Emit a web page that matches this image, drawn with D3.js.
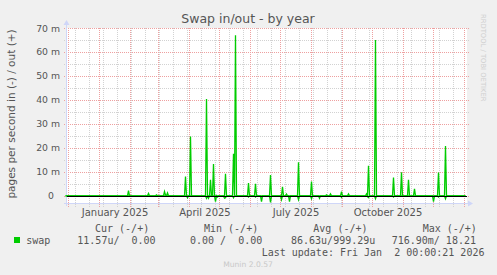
<!DOCTYPE html>
<html><head><meta charset="utf-8">
<script src="https://cdn.jsdelivr.net/npm/d3@7"></script>
<style>html,body{margin:0;padding:0;background:#f0f0f0;} svg{display:block;}</style>
</head><body><svg id="c" width="497" height="275"></svg>
<script>
// ---- data (values in milli pages/second) ----
const yTickValues = [0, 10, 20, 30, 40, 50, 60, 70];
const yTickLabels = ["0", "10 m", "20 m", "30 m", "40 m", "50 m", "60 m", "70 m"];
const monthLabels = ["January 2025", "April 2025", "July 2025", "October 2025"];
const monthLabelDates = ["2025-01-16T12:00", "2025-04-16T12:00", "2025-07-16T12:00", "2025-10-16T12:00"];

// swap out (+)
const outDates = ["2025-01-30","2025-02-19","2025-02-27","2025-03-07","2025-03-08","2025-03-10","2025-03-28","2025-04-02",
  "2025-04-18","2025-04-22","2025-04-25","2025-05-07","2025-05-15","2025-05-17","2025-05-30","2025-06-06","2025-06-21",
  "2025-07-03","2025-07-07","2025-07-19","2025-08-01","2025-08-16","2025-08-20","2025-08-31","2025-09-07","2025-09-25",
  "2025-09-27","2025-10-04","2025-10-22","2025-10-30","2025-11-06","2025-11-12","2025-12-06","2025-12-13"];
const outValues = [2.2, 1.0, 0.4, 1.8, 0.4, 1.2, 8.0, 24.7,
  40.4, 6.7, 13.3, 9.2, 17.5, 67.0, 5.3, 5.0, 8.7,
  3.8, 0.7, 14.0, 6.0, 0.4, 0.8, 1.7, 0.8, 0.8,
  12.5, 65.0, 7.6, 9.8, 6.7, 2.9, 9.7, 20.8];

// swap in (-)
const inDates = ["2025-03-30","2025-04-18","2025-04-20","2025-04-27","2025-04-29","2025-05-06","2025-05-07","2025-05-15",
  "2025-05-30","2025-06-06","2025-06-12","2025-06-21","2025-07-02","2025-07-10","2025-07-19","2025-08-01","2025-08-09",
  "2025-08-31","2025-09-27","2025-10-04","2025-10-22","2025-12-01","2025-12-06","2025-12-13"];
const inValues = [0.8, 1.0, 1.0, 2.4, 0.5, 1.0, 0.8, 0.8,
  0.5, 0.5, 2.4, 2.8, 1.6, 2.4, 1.6, 1.2, 1.0,
  0.6, 0.7, 1.2, 0.5, 2.4, 0.5, 1.2];

const legendHeaders = ["Cur (-/+)", "Min (-/+)", "Avg (-/+)", "Max (-/+)"];
const legendValues = ["11.57u/  0.00", "0.00 /  0.00", "86.63u/999.29u", "716.90m/ 18.21"];

// ---- layout ----
const svg = d3.select("#c");
const W = 497, H = 275;
const endTime = new Date("2026-01-02T00:00:00");
const startTime = d3.timeDay.offset(endTime, -400);
const x = d3.scaleTime().domain([startTime, endTime]).range([65.5, 465.5]);
const y = d3.scaleLinear().domain([-3, 70]).range([203, 28]);
const px = v => Math.floor(v) + 0.5;
const py = v => Math.round(v) + 0.5;

svg.append("rect").attr("width", W).attr("height", H).attr("fill", "#f0f0f0");
svg.append("rect").attr("x", 67).attr("y", 28).attr("width", 400).attr("height", 175).attr("fill", "#ffffff");

const MINOR = "#d2d2d2", MAJOR = "#eea0a0";
const grid = svg.append("g");
// horizontal grid
d3.range(5, 70, 10).forEach(v => {
  grid.append("line").attr("x1", 64).attr("x2", 470).attr("y1", py(y(v))).attr("y2", py(y(v)))
    .attr("stroke", MINOR).attr("stroke-dasharray", "1,1").attr("shape-rendering", "crispEdges");
});
yTickValues.forEach(v => {
  grid.append("line").attr("x1", 64).attr("x2", 470).attr("y1", py(y(v))).attr("y2", py(y(v)))
    .attr("stroke", MAJOR).attr("stroke-dasharray", "1,1").attr("shape-rendering", "crispEdges");
});
// vertical grid: biweekly minor, monthly major
const minorDates = d3.timeDay.range(new Date("2024-12-08T00:00:00"), endTime, 14);
minorDates.forEach(d => {
  grid.append("line").attr("x1", px(x(d))).attr("x2", px(x(d))).attr("y1", 28).attr("y2", 207)
    .attr("stroke", MINOR).attr("stroke-dasharray", "1,1").attr("shape-rendering", "crispEdges");
});
const majorDates = d3.timeMonth.range(startTime, endTime);
majorDates.forEach(d => {
  grid.append("line").attr("x1", px(x(d))).attr("x2", px(x(d))).attr("y1", 28).attr("y2", 207)
    .attr("stroke", MAJOR).attr("stroke-dasharray", "1,1").attr("shape-rendering", "crispEdges");
});

// axes
const AX = "#cfd6f8";
svg.append("line").attr("x1", 64).attr("x2", 468).attr("y1", 203.5).attr("y2", 203.5).attr("stroke", AX);
svg.append("path").attr("d", "M468,200.5 L473,203.5 L468,206.5 Z").attr("fill", AX);
svg.append("line").attr("x1", 66.5).attr("x2", 66.5).attr("y1", 206).attr("y2", 25).attr("stroke", AX);
svg.append("path").attr("d", "M63.5,25 L66.5,20 L69.5,25 Z").attr("fill", AX);

// data series
const outMap = new Map(outDates.map((d, i) => [d, outValues[i]]));
const inMap = new Map(inDates.map((d, i) => [d, inValues[i]]));
const days = d3.timeDay.range(startTime, d3.timeDay.offset(endTime, 1));
const fmt = d3.timeFormat("%Y-%m-%d");
const outSeries = days.map(d => ({ d, v: outMap.has(fmt(d)) ? outMap.get(fmt(d)) : 0 }));
const inSeries = days.map(d => ({ d, v: inMap.has(fmt(d)) ? -inMap.get(fmt(d)) : 0 }));
const line = d3.line().x(p => x(p.d)).y(p => y(p.v));
const GREEN = "#00cc00";
svg.append("path").datum(inSeries).attr("d", line).attr("fill", "none").attr("stroke", GREEN).attr("stroke-width", 1.3);
svg.append("path").datum(outSeries).attr("d", line).attr("fill", "none").attr("stroke", GREEN).attr("stroke-width", 1.3);

// zero rule
svg.append("line").attr("x1", 67).attr("x2", 467).attr("y1", py(y(0))).attr("y2", py(y(0)))
  .attr("stroke", "#000").attr("shape-rendering", "crispEdges");

// texts
const FONT = "DejaVu Sans, sans-serif";
const MONO = "DejaVu Sans Mono, monospace";
const TXT = "#555555";
svg.append("text").attr("x", 248).attr("y", 23).attr("text-anchor", "middle")
  .attr("font-family", FONT).attr("font-size", 12.5).attr("fill", TXT).text("Swap in/out - by year");

svg.append("text").attr("transform", "translate(14.5,114) rotate(-90)").attr("text-anchor", "middle")
  .attr("font-family", FONT).attr("font-size", 10.5).attr("fill", TXT).text("pages per second in (-) / out (+)");

yTickValues.forEach((v, i) => {
  svg.append("text").attr("x", v === 0 ? 54 : 60).attr("y", y(v) + 3.5).attr("text-anchor", "end")
    .attr("font-family", FONT).attr("font-size", 9.3).attr("fill", TXT).text(yTickLabels[i]);
});

monthLabels.forEach((t, i) => {
  svg.append("text").attr("x", x(new Date(monthLabelDates[i]))).attr("y", 216).attr("text-anchor", "middle")
    .attr("font-family", FONT).attr("font-size", 10).attr("fill", TXT).text(t);
});

svg.append("text").attr("transform", "translate(481,14) rotate(90)")
  .attr("font-family", FONT).attr("font-size", 6.8).attr("fill", "#cfcfcf").text("RRDTOOL / TOBI OETIKER");

// legend
const hx = [95, 204, 313.3, 422.7];
legendHeaders.forEach((t, i) => {
  svg.append("text").attr("x", hx[i]).attr("y", 231.5).attr("font-family", MONO).attr("font-size", 10)
    .attr("fill", TXT).style("white-space", "pre").text(t);
});
svg.append("rect").attr("x", 14).attr("y", 237).attr("width", 6).attr("height", 6).attr("fill", GREEN);
svg.append("text").attr("x", 26.3).attr("y", 243.5).attr("font-family", MONO).attr("font-size", 10)
  .attr("fill", TXT).text("swap");
const vx = [77.3, 190, 291, 391.7];
legendValues.forEach((t, i) => {
  svg.append("text").attr("x", vx[i]).attr("y", 243.5).attr("font-family", MONO).attr("font-size", 10)
    .attr("fill", TXT).style("white-space", "pre").text(t);
});
svg.append("text").attr("x", 261.7).attr("y", 255.5).attr("font-family", MONO).attr("font-size", 10)
  .attr("fill", TXT).style("white-space", "pre").text("Last update: Fri Jan  2 00:00:21 2026");
svg.append("text").attr("x", 248).attr("y", 267).attr("text-anchor", "middle")
  .attr("font-family", FONT).attr("font-size", 7.6).attr("fill", "#c8c8c8").text("Munin 2.0.57");
</script></body></html>
